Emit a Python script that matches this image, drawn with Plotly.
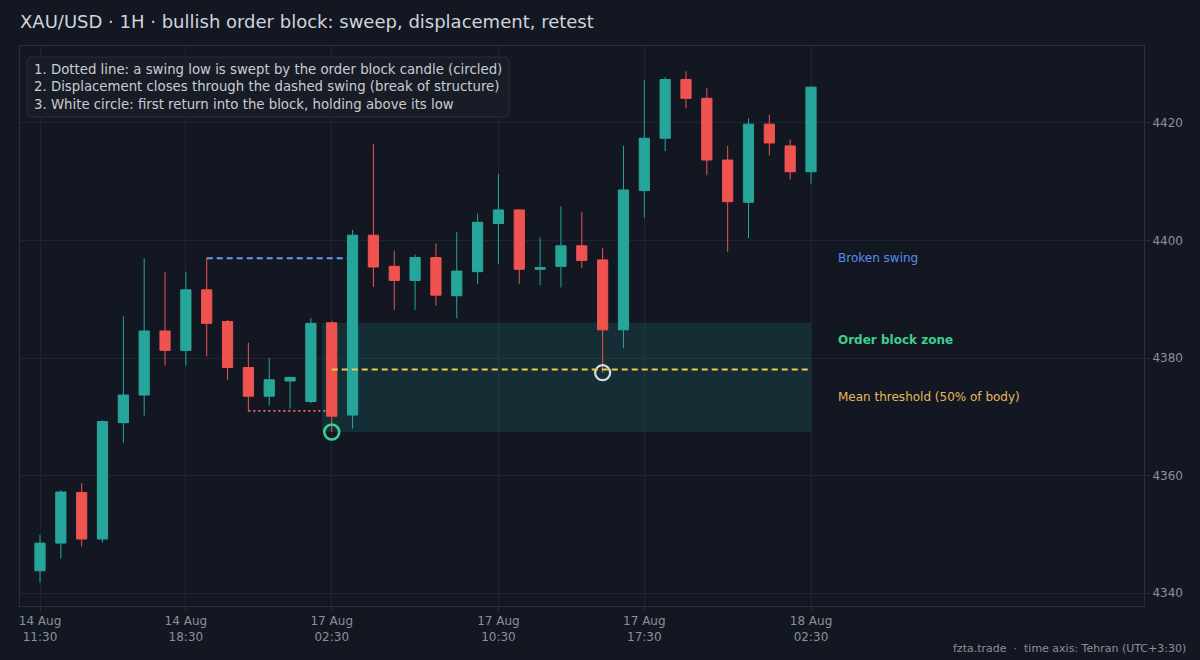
import plotly.graph_objects as go

# ---- data (XAU/USD 1H candles) ----
opens = [4343.8, 4348.5, 4357.1, 4349.2, 4369.0, 4373.7, 4384.6, 4381.3, 4391.6, 4386.2,
         4378.4, 4373.5, 4376.1, 4372.6, 4386.0, 4370.3, 4400.9, 4395.6, 4393.2, 4397.1,
         4390.6, 4394.7, 4402.9, 4405.2, 4395.1, 4395.6, 4399.1, 4396.7, 4384.8, 4408.5,
         4417.4, 4427.4, 4424.2, 4413.7, 4406.5, 4419.8, 4416.1, 4411.7]
highs = [4349.9, 4357.5, 4358.7, 4369.4, 4387.1, 4397.0, 4394.6, 4394.7, 4397.0, 4386.5,
         4382.6, 4380.0, 4376.8, 4386.8, 4386.3, 4401.8, 4416.4, 4398.3, 4397.6, 4399.5,
         4401.4, 4404.6, 4411.3, 4405.3, 4400.5, 4405.8, 4404.8, 4398.7, 4416.1, 4427.3,
         4427.8, 4428.8, 4425.9, 4416.1, 4420.8, 4421.4, 4417.2, 4426.2]
lows = [4341.8, 4345.9, 4347.9, 4348.6, 4365.6, 4370.2, 4378.7, 4378.7, 4380.3, 4376.3,
        4371.0, 4371.9, 4371.4, 4372.3, 4367.4, 4368.0, 4392.1, 4388.2, 4388.2, 4388.9,
        4386.8, 4392.6, 4396.0, 4392.6, 4392.4, 4392.0, 4395.3, 4377.5, 4381.7, 4403.8,
        4415.2, 4422.5, 4411.1, 4398.1, 4400.4, 4414.5, 4410.4, 4409.7]
closes = [4348.5, 4357.2, 4349.2, 4369.2, 4373.7, 4384.6, 4381.3, 4391.6, 4385.9, 4378.4,
          4373.5, 4376.3, 4376.7, 4385.9, 4370.1, 4400.9, 4395.5, 4393.2, 4397.1, 4390.7,
          4394.8, 4403.1, 4405.2, 4395.1, 4395.4, 4399.1, 4396.6, 4384.8, 4408.6, 4417.4,
          4427.4, 4424.2, 4413.7, 4406.6, 4419.8, 4416.6, 4411.7, 4426.1]
tick_idx = [0, 7, 14, 22, 29, 37]
tick_labels = ["14 Aug<br>11:30", "14 Aug<br>18:30", "17 Aug<br>02:30",
               "17 Aug<br>10:30", "17 Aug<br>17:30", "18 Aug<br>02:30"]
y_ticks = [4340, 4360, 4380, 4400, 4420]

swing_high_idx = 8      # broken swing
sweep_low_idx = 10      # swing low that gets swept
ob_idx = 14             # order block candle
bos_idx = 15            # displacement candle
retest_idx = 27         # first return into block

x = list(range(len(opens)))
last = x[-1]

BG = "#131722"
GREEN = "#26a69a"
RED = "#ef5350"
GRID = "#1f2430"
TXT = "#8a909c"

swing_level = highs[swing_high_idx]
sweep_level = lows[sweep_low_idx]
zone_top = max(opens[ob_idx], closes[ob_idx])
zone_bot = lows[ob_idx]
mean_thr = (opens[ob_idx] + closes[ob_idx]) / 2

fig = go.Figure()

fig.add_trace(go.Candlestick(
    x=x, open=opens, high=highs, low=lows, close=closes,
    increasing=dict(line=dict(color=GREEN, width=1), fillcolor=GREEN),
    decreasing=dict(line=dict(color=RED, width=1), fillcolor=RED),
    whiskerwidth=0, showlegend=False, hoverinfo="skip",
))

# order block zone
fig.add_shape(type="rect", x0=ob_idx - 0.47, x1=last, y0=zone_bot, y1=zone_top,
              fillcolor="rgba(38,166,154,0.16)", line=dict(width=0), layer="between")
# broken swing (dashed blue)
fig.add_shape(type="line", x0=swing_high_idx, x1=bos_idx, y0=swing_level, y1=swing_level,
              line=dict(color="#6b9bf5", width=2, dash="6px,4px"), layer="between")
# swept swing low (dotted red)
fig.add_shape(type="line", x0=sweep_low_idx, x1=ob_idx, y0=sweep_level, y1=sweep_level,
              line=dict(color="#ef6f6c", width=1.8, dash="2px,3px"), layer="between")
# mean threshold (dashed yellow)
fig.add_shape(type="line", x0=ob_idx, x1=last, y0=mean_thr, y1=mean_thr,
              line=dict(color="#e8c94f", width=2, dash="6px,4px"), layer="above")

# circles
fig.add_trace(go.Scatter(x=[ob_idx], y=[lows[ob_idx]], mode="markers",
                         marker=dict(symbol="circle-open", size=15, color="#3ecf8e",
                                     line=dict(width=2.6, color="#3ecf8e")),
                         showlegend=False, hoverinfo="skip"))
fig.add_trace(go.Scatter(x=[retest_idx], y=[lows[retest_idx]], mode="markers",
                         marker=dict(symbol="circle-open", size=15, color="#d9dbe0",
                                     line=dict(width=2.2, color="#d9dbe0")),
                         showlegend=False, hoverinfo="skip"))

label_x = last + 1.2
fig.add_annotation(x=label_x, y=swing_level, text="Broken swing", showarrow=False,
                   xanchor="left", yanchor="middle", font=dict(size=12, color="#5b8def"))
fig.add_annotation(x=label_x, y=zone_top - 2.9, text="<b>Order block zone</b>", showarrow=False,
                   xanchor="left", yanchor="middle", font=dict(size=12, color="#3ecf8e"))
fig.add_annotation(x=label_x, y=mean_thr - 4.7, text="Mean threshold (50% of body)",
                   showarrow=False, xanchor="left", yanchor="middle",
                   font=dict(size=12, color="#e6b85c"))

# notes box (rounded background)
bx0, bx1, by0, by1 = 0.0062, 0.4351, 0.8732, 0.9804
rx, ry = 0.0045, 0.009
path = (f"M {bx0+rx},{by1} L {bx1-rx},{by1} Q {bx1},{by1} {bx1},{by1-ry} "
        f"L {bx1},{by0+ry} Q {bx1},{by0} {bx1-rx},{by0} L {bx0+rx},{by0} "
        f"Q {bx0},{by0} {bx0},{by0+ry} L {bx0},{by1-ry} Q {bx0},{by1} {bx0+rx},{by1} Z")
fig.add_shape(type="path", xref="paper", yref="paper", path=path,
              fillcolor="#181c27", line=dict(color="#2a2f3b", width=1), layer="above")
fig.add_annotation(
    xref="paper", yref="paper", x=bx0 + 0.0045, y=(by0 + by1) / 2,
    xanchor="left", yanchor="middle", align="left", showarrow=False,
    text=("1. Dotted line: a swing low is swept by the order block candle (circled)<br>"
          "2. Displacement closes through the dashed swing (break of structure)<br>"
          "3. White circle: first return into the block, holding above its low"),
    font=dict(size=13.3, color="#c9ccd3"),
)

# footer
fig.add_annotation(xref="paper", yref="paper", x=1.039, y=-0.075, xanchor="right",
                   yanchor="middle", showarrow=False,
                   text="fzta.trade  ·  time axis: Tehran (UTC+3:30)",
                   font=dict(size=11, color=TXT))

fig.update_layout(
    width=1200, height=660,
    paper_bgcolor=BG, plot_bgcolor=BG,
    margin=dict(l=20, r=56, t=46, b=54),
    font=dict(family="DejaVu Sans", color=TXT),
    title=dict(text="XAU/USD · 1H · bullish order block: sweep, displacement, retest",
               x=20 / 1200, xanchor="left", y=1 - 22 / 660, yanchor="middle",
               font=dict(size=18, color="#d1d4dc")),
    showlegend=False,
    hovermode=False,
)
fig.update_xaxes(
    range=[-0.96, 52.98], tickmode="array", tickvals=tick_idx, ticktext=tick_labels,
    showgrid=True, gridcolor=GRID, gridwidth=1, zeroline=False,
    showline=True, linecolor="#2a2f3b", mirror=True,
    ticks="outside", ticklen=4, tickcolor="#2a2f3b",
    tickfont=dict(size=12, color=TXT), rangeslider=dict(visible=False),
)
fig.update_yaxes(
    range=[4337.8, 4433.1], side="right", tickvals=y_ticks,
    showgrid=True, gridcolor=GRID, gridwidth=1, zeroline=False,
    showline=True, linecolor="#2a2f3b", mirror=True,
    ticks="outside", ticklen=5, tickcolor="#2a2f3b",
    tickfont=dict(size=12, color=TXT),
)

fig.write_html(
    "out.html",
    config={"displayModeBar": False},
    post_script=("document.body.style.margin='0';document.body.style.padding='0';"
                 "document.body.style.background='#131722';"
                 "document.body.style.overflow='hidden';"),
)
